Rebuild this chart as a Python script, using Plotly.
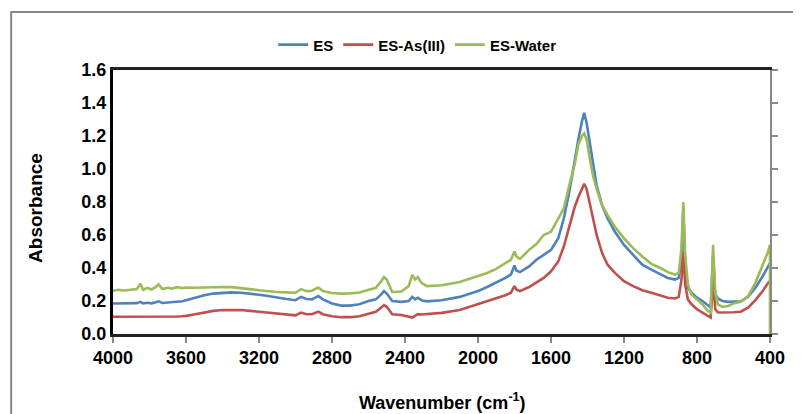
import plotly.graph_objects as go

wavenumber = [4000, 3970, 3940, 3900, 3870, 3850, 3835, 3810, 3790, 3765, 3750, 3730, 3700, 3680, 3650, 3620, 3600,
              3550, 3500, 3450,
              3400, 3350, 3300, 3250, 3200, 3150, 3100, 3050, 3000, 2970, 2940, 2910, 2875, 2850,
              2800, 2750, 2700, 2650, 2600, 2560, 2530, 2515, 2500, 2470, 2420, 2380, 2360, 2345,
              2330, 2310, 2280, 2200, 2100, 2000, 1950, 1900, 1850, 1820, 1800, 1790, 1770, 1720,
              1680, 1640, 1600, 1560, 1530, 1500, 1470, 1450, 1430, 1418, 1405, 1390, 1370, 1350,
              1320, 1290, 1250, 1200, 1150, 1100, 1050, 1000, 960, 920, 900, 885, 875, 865, 850,
              830, 800, 770, 740, 725, 712, 700, 685, 660, 630, 600, 560, 520, 480, 440, 410, 400, 400]

es = [0.185, 0.186, 0.185, 0.188, 0.187, 0.195, 0.186, 0.189, 0.186, 0.193, 0.198, 0.188, 0.190, 0.192, 0.195, 0.199, 0.205,
      0.220, 0.235, 0.245,
      0.250, 0.252, 0.250, 0.245, 0.238, 0.230, 0.220, 0.212, 0.205, 0.225, 0.212, 0.210, 0.230, 0.210,
      0.185, 0.172, 0.172, 0.180, 0.200, 0.210, 0.240, 0.260, 0.245, 0.200, 0.195, 0.200, 0.225, 0.210,
      0.220, 0.205, 0.198, 0.205, 0.225, 0.260, 0.285, 0.310, 0.340, 0.360, 0.415, 0.385, 0.375, 0.410,
      0.450, 0.480, 0.510, 0.580, 0.700, 0.860, 1.060, 1.180, 1.290, 1.340, 1.280, 1.170, 1.020, 0.900,
      0.780, 0.700, 0.620, 0.540, 0.480, 0.420, 0.390, 0.365, 0.340, 0.330, 0.340, 0.450, 0.760, 0.420, 0.280,
      0.250, 0.220, 0.200, 0.170, 0.160, 0.480, 0.240, 0.215, 0.200, 0.195, 0.195, 0.198, 0.225, 0.280, 0.350, 0.410, 0.430, 0.430]

es_as = [0.105, 0.105, 0.105, 0.104, 0.104, 0.104, 0.103, 0.103, 0.103, 0.103, 0.104, 0.104, 0.104, 0.105, 0.106, 0.108, 0.110,
         0.120, 0.132, 0.140,
         0.145, 0.146, 0.145, 0.140, 0.135, 0.128, 0.122, 0.117, 0.113, 0.130, 0.120, 0.120, 0.135, 0.120,
         0.108, 0.102, 0.102, 0.108, 0.125, 0.135, 0.160, 0.175, 0.165, 0.120, 0.115, 0.108, 0.100, 0.110,
         0.120, 0.118, 0.120, 0.128, 0.145, 0.180, 0.200, 0.215, 0.235, 0.250, 0.290, 0.270, 0.260, 0.285,
         0.310, 0.340, 0.380, 0.440, 0.530, 0.650, 0.770, 0.830, 0.880, 0.910, 0.880, 0.800, 0.700, 0.600,
         0.490, 0.420, 0.370, 0.320, 0.290, 0.265, 0.250, 0.235, 0.220, 0.215, 0.225, 0.330, 0.500, 0.300, 0.210,
         0.180, 0.150, 0.130, 0.110, 0.100, 0.330, 0.150, 0.130, 0.130, 0.130, 0.132, 0.135, 0.160, 0.205, 0.260, 0.310, 0.320, 0.320]

es_water = [0.262, 0.268, 0.264, 0.270, 0.272, 0.305, 0.268, 0.280, 0.270, 0.285, 0.300, 0.272, 0.280, 0.275, 0.284, 0.278, 0.282,
            0.280, 0.282, 0.285,
            0.285, 0.284, 0.280, 0.272, 0.265, 0.258, 0.255, 0.252, 0.250, 0.272, 0.260, 0.262, 0.282, 0.260,
            0.248, 0.245, 0.246, 0.252, 0.268, 0.280, 0.320, 0.345, 0.330, 0.255, 0.258, 0.290, 0.358, 0.330,
            0.345, 0.310, 0.290, 0.295, 0.315, 0.350, 0.370, 0.395, 0.430, 0.450, 0.500, 0.470, 0.455, 0.510,
            0.545, 0.600, 0.620, 0.700, 0.760, 0.900, 1.030, 1.150, 1.200, 1.215, 1.180, 1.080, 0.960, 0.880,
            0.780, 0.720, 0.650, 0.580, 0.520, 0.470, 0.425, 0.400, 0.375, 0.360, 0.370, 0.520, 0.800, 0.480, 0.300,
            0.240, 0.210, 0.180, 0.140, 0.130, 0.540, 0.250, 0.180, 0.165, 0.170, 0.185, 0.195, 0.230, 0.310, 0.420, 0.500, 0.540, 0.0]

series_names = ["ES", "ES-As(III)", "ES-Water"]
series_colors = ["#4F81BD", "#C0504D", "#9BBB59"]
x_ticks = [4000, 3600, 3200, 2800, 2400, 2000, 1600, 1200, 800, 400]
y_ticks = [0.0, 0.2, 0.4, 0.6, 0.8, 1.0, 1.2, 1.4, 1.6]

FONT = "Liberation Sans, Arial, sans-serif"

fig = go.Figure()
for name, vals, col in zip(series_names, [es, es_as, es_water], series_colors):
    fig.add_trace(go.Scatter(x=wavenumber, y=vals, mode="lines", name=name,
                             line=dict(color=col, width=2.6)))

# invisible trace to carry the right-side axis
fig.add_trace(go.Scatter(x=[4000], y=[0], yaxis="y2", showlegend=False, mode="markers",
                         marker=dict(opacity=0), hoverinfo="skip"))

fig.update_layout(
    width=793, height=406,
    margin=dict(l=105, r=31, t=62, b=80),
    paper_bgcolor="white", plot_bgcolor="white",
    font=dict(family=FONT, size=17, color="#000000"),
    showlegend=True,
    legend=dict(orientation="h", x=0.463, xanchor="center", y=1.095, yanchor="middle",
                font=dict(family=FONT, size=15, color="#000", weight="bold"), itemwidth=30,
                bgcolor="rgba(0,0,0,0)"),
    xaxis=dict(range=[4000, 400], tickvals=x_ticks, ticktext=[str(v) for v in x_ticks],
               showgrid=False, zeroline=False, showline=True, linecolor="#222", linewidth=2.5,
               mirror=True, ticks="outside", ticklen=6, tickcolor="#888", tickwidth=1.5,
               tickfont=dict(family=FONT, size=18, weight="bold")),
    yaxis=dict(range=[0, 1.6], tickvals=y_ticks, ticktext=[f"{v:.1f}" for v in y_ticks],
               showgrid=False, zeroline=False, showline=True, linecolor="#000", linewidth=3,
               ticks="", tickfont=dict(family=FONT, size=18, weight="bold")),
    yaxis2=dict(range=[0, 1.6], overlaying="y", side="right", tickvals=y_ticks, showticklabels=False,
                showgrid=False, zeroline=False, showline=True, linecolor="#888", linewidth=2,
                ticks="outside", ticklen=6, tickcolor="#888", tickwidth=1.5),
    annotations=[
        dict(text="<b>Absorbance</b>", x=-0.119, y=0.477, xref="paper", yref="paper", textangle=-90,
             showarrow=False, font=dict(family=FONT, size=19), xanchor="center", yanchor="middle"),
        dict(text="<b>Wavenumber (cm<sup>-1</sup>)</b>", x=0.502, y=-0.254, xref="paper", yref="paper",
             showarrow=False, font=dict(family=FONT, size=18), xanchor="center", yanchor="middle"),
    ],
    shapes=[dict(type="rect", xref="paper", yref="paper", x0=-0.155, x1=1.2, y0=-0.6, y1=1.2197,
                 line=dict(color="#868686", width=2), layer="below")],
)

fig.write_html("out.html")
